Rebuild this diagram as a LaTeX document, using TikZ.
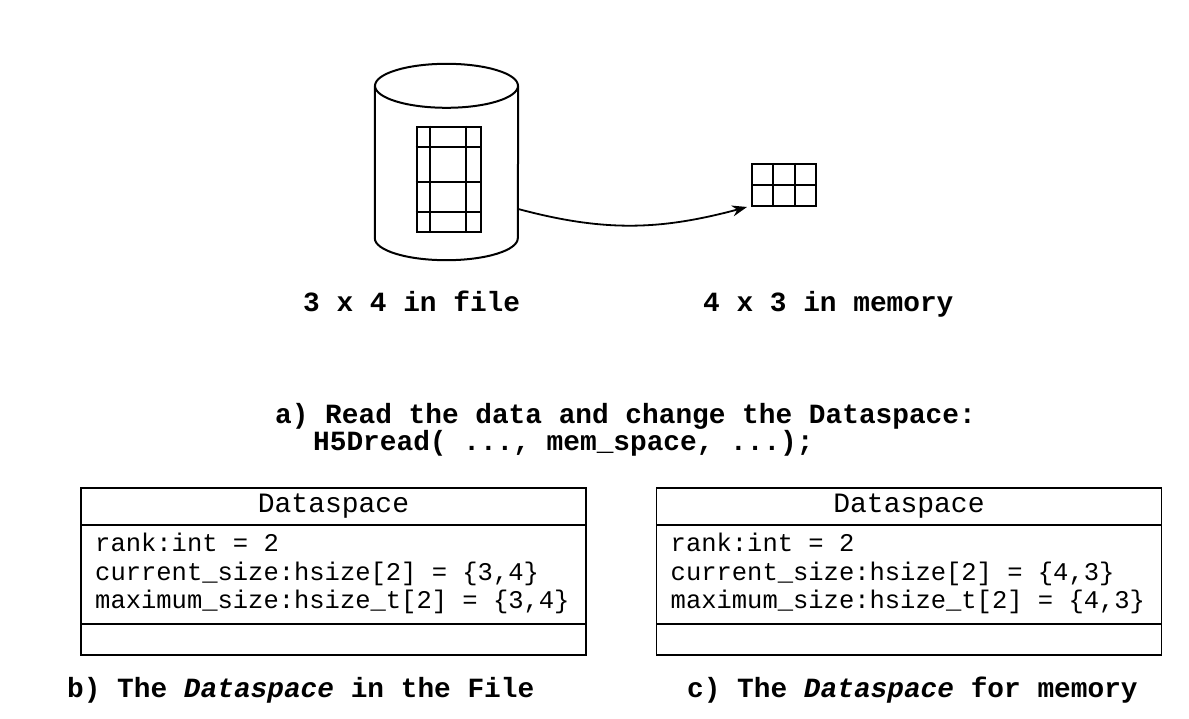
\documentclass[tikz,border=0pt]{standalone}
\usepackage{fontspec}
\setmonofont{Liberation Mono}
\usetikzlibrary{positioning,arrows.meta}
\begin{document}
\begin{tikzpicture}[x=1pt,y=-1pt,
        thick line/.style={line width=2pt},
        grid line/.style={line width=2pt},
        umlbox/.style={draw, line width=1.8pt, minimum width=505pt, inner sep=0pt, outer sep=0pt},
        title/.style={font=\ttfamily\fontsize{28}{30}\selectfont},
        attr/.style={anchor=base west, inner sep=0pt, font=\ttfamily\fontsize{25.5}{28.5}\selectfont},
        lbl/.style={anchor=base west, inner sep=0pt, font=\ttfamily\bfseries\fontsize{27.8}{30}\selectfont}]
        \useasboundingbox (0,0) rectangle (1189,719);
        \node[minimum width=143pt, minimum height=196pt, inner sep=0pt] (disk) at (446.5,162) {};
        \draw[thick line] (disk.north) ++(0pt,-22pt) ellipse [x radius=71.5pt, y radius=22pt];
        \draw[thick line] ([yshift=-22pt]disk.north west) -- ([yshift=22pt]disk.south west)
          arc [start angle=180, end angle=360, x radius=71.5pt, y radius=22pt]
          -- ([yshift=-22pt]disk.north east);
        \node[draw, grid line, minimum width=64pt, minimum height=105.6pt, inner sep=0pt] (filegrid) at (448.7,179.5) {};
        \foreach \dx in {14.3,50}
          \draw[grid line] ([xshift=\dx pt]filegrid.north west) -- ([xshift=\dx pt]filegrid.south west);
        \foreach \dy in {21.3,56,86}
          \draw[grid line] ([yshift=-\dy pt]filegrid.north west) -- ([yshift=-\dy pt]filegrid.north east);
        \node[draw, grid line, minimum width=64pt, minimum height=42pt, inner sep=0pt] (memgrid) at (784,185) {};
        \foreach \dx in {22,44}
          \draw[grid line] ([xshift=\dx pt]memgrid.north west) -- ([xshift=\dx pt]memgrid.south west);
        \draw[grid line] (memgrid.west) -- (memgrid.east);
        \draw[-{Stealth[length=15pt,width=11pt]}, line width=1.8pt] ([yshift=-47pt]disk.east)
          to[out=-15, in=195] ([xshift=-4pt]memgrid.south west);
        \node[lbl] (filelbl) at (303,312) {3 x 4 in file};
        \node[lbl] (memlbl) at (703,312) {4 x 3 in memory};
        \node[lbl] (readlbl) at (275,423) {a) Read the data and change the Dataspace:};
        \node[lbl] (calllbl) at (313,450) {H5Dread( ..., mem\_space, ...);};
        \node[umlbox, title, minimum height=37pt] (filetitle) at (333.5,506.5) {Dataspace};
        \node[umlbox, minimum height=99pt, below=0pt of filetitle] (fileattr) {};
        \node[umlbox, minimum height=31pt, below=0pt of fileattr] (fileops) {};
        \node[attr] (filerank) at ([xshift=14pt, yshift=-26pt]fileattr.north west) {rank:int = 2};
        \node[attr] (filecur) at ([xshift=14pt, yshift=-55pt]fileattr.north west) {current\_size:hsize[2] = \{3,4\}};
        \node[attr] (filemax) at ([xshift=14pt, yshift=-83pt]fileattr.north west) {maximum\_size:hsize\_t[2] = \{3,4\}};
        \node[umlbox, title, minimum height=37pt] (memtitle) at (909,506.5) {Dataspace};
        \node[umlbox, minimum height=99pt, below=0pt of memtitle] (memattr) {};
        \node[umlbox, minimum height=31pt, below=0pt of memattr] (memops) {};
        \node[attr] (memrank) at ([xshift=14pt, yshift=-26pt]memattr.north west) {rank:int = 2};
        \node[attr] (memcur) at ([xshift=14pt, yshift=-55pt]memattr.north west) {current\_size:hsize[2] = \{4,3\}};
        \node[attr] (memmax) at ([xshift=14pt, yshift=-83pt]memattr.north west) {maximum\_size:hsize\_t[2] = \{4,3\}};
        \node[lbl] (filecap) at (67,697) {b) The \textit{Dataspace} in the File};
        \node[lbl] (memcap) at (687,697) {c) The \textit{Dataspace} for memory};
      \end{tikzpicture}
\end{document}
